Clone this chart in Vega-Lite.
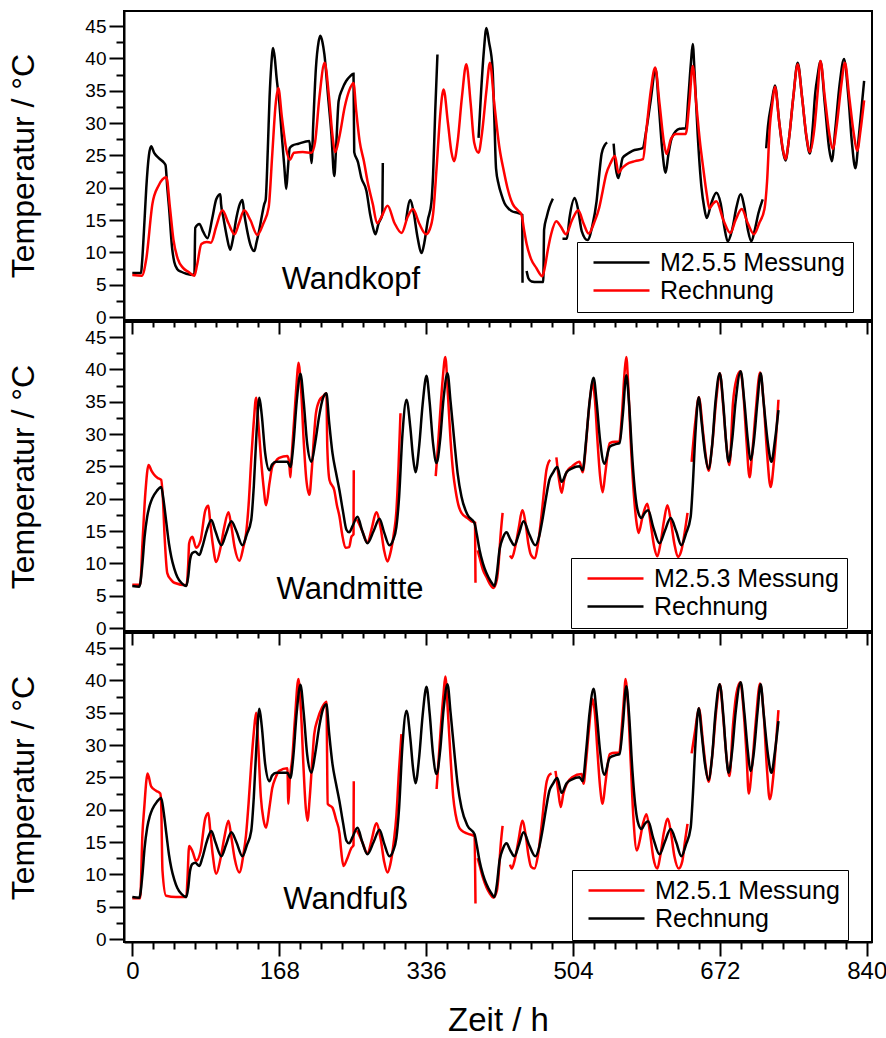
{
"$schema": "https://vega.github.io/schema/vega-lite/v6.json",
"padding": {"left": 6, "top": 10, "right": 2, "bottom": 2},
"bounds": "flush",
"spacing": 2,
"config": {
  "view": {"stroke": "black", "strokeWidth": 2},
  "font": "Liberation Sans",
  "axis": {"domainColor": "black", "domainWidth": 2, "tickColor": "black", "tickWidth": 2, "labelColor": "black", "titleColor": "black", "grid": false, "labelFont": "Liberation Sans", "titleFont": "Liberation Sans", "titleFontWeight": "normal", "labelOverlap": false, "labelFlush": false, "labelBound": false},
  "legend": {"labelFont": "Liberation Sans", "labelFontSize": 25, "labelColor": "black", "labelLimit": 400, "strokeColor": "black", "fillColor": "white", "padding": 8, "rowPadding": 2, "symbolType": "M-4,0H4", "symbolSize": 196, "symbolStrokeWidth": 2.5, "symbolOffset": 24, "labelOffset": 26, "orient": "none"}
},
"resolve": {"scale": {"color": "independent", "x": "independent", "y": "independent"}, "legend": {"color": "independent"}},
"datasets": {
"topCalc": [{"h":0,"T":6.5},{"h":11,"T":6.4},{"h":16,"T":9},{"h":23,"T":17.5},{"h":30,"T":20.3},{"h":39,"T":21.6},{"h":43,"T":17},{"h":47,"T":12},{"h":52,"T":9},{"h":58,"T":7.6},{"h":64,"T":7},{"h":71,"T":6.4},{"h":74,"T":8},{"h":79,"T":11.3},{"h":85,"T":11.6},{"h":90,"T":11.5},{"h":96,"T":14},{"h":103,"T":16.5},{"h":110,"T":14.5},{"h":117,"T":12.8},{"h":122,"T":14.5},{"h":128,"T":16.5},{"h":135,"T":15},{"h":143,"T":12.7},{"h":150,"T":14.5},{"h":156,"T":17},{"h":160,"T":25},{"h":164,"T":33},{"h":167,"T":35.4},{"h":171,"T":31},{"h":176,"T":26},{"h":180,"T":24.3},{"h":185,"T":25.4},{"h":195,"T":25.5},{"h":205,"T":25.4},{"h":209,"T":27},{"h":214,"T":34},{"h":220,"T":39.3},{"h":225,"T":34},{"h":229,"T":28},{"h":232,"T":25.5},{"h":237,"T":28},{"h":243,"T":32.5},{"h":248,"T":35},{"h":253,"T":36.2},{"h":256,"T":32},{"h":260,"T":27.2},{"h":265,"T":24},{"h":269,"T":21},{"h":275,"T":17.5},{"h":280,"T":14.5},{"h":285,"T":15.5},{"h":292,"T":17.2},{"h":300,"T":14.5},{"h":308,"T":13},{"h":315,"T":15.5},{"h":321,"T":16.7},{"h":328,"T":14.5},{"h":336,"T":12.8},{"h":340,"T":13.5},{"h":344,"T":15.9},{"h":348,"T":23},{"h":352,"T":31},{"h":356,"T":35.2},{"h":361,"T":30},{"h":365,"T":25.5},{"h":368,"T":24.1},{"h":372,"T":27},{"h":377,"T":34},{"h":382,"T":39.1},{"h":387,"T":33},{"h":391,"T":27},{"h":396,"T":25.4},{"h":400,"T":28.5},{"h":405,"T":35},{"h":409,"T":39.3},{"h":414,"T":33},{"h":420,"T":26.1},{"h":425,"T":22.5},{"h":429,"T":20},{"h":435,"T":17.5},{"h":441,"T":16.5},{"h":445,"T":15.9},{"h":448,"T":13.5},{"h":451,"T":11.3},{"h":456,"T":9},{"h":462,"T":7.6},{"h":469,"T":6.3},{"h":472,"T":7.8},{"h":475,"T":10.2},{"h":479,"T":12.8},{"h":485,"T":14.8},{"h":490,"T":14},{"h":496,"T":12.8},{"h":503,"T":15},{"h":510,"T":16.5},{"h":516,"T":14.5},{"h":522,"T":12.9},{"h":528,"T":14.5},{"h":534,"T":16.9},{"h":538,"T":19.5},{"h":542,"T":22.1},{"h":547,"T":23.8},{"h":552,"T":24.9},{"h":556,"T":22.3},{"h":560,"T":23},{"h":565,"T":23.6},{"h":575,"T":24.1},{"h":584,"T":24.4},{"h":588,"T":29},{"h":593,"T":35},{"h":598,"T":38.6},{"h":603,"T":33},{"h":608,"T":27},{"h":611,"T":25.2},{"h":616,"T":27.5},{"h":622,"T":28.3},{"h":633,"T":28.3},{"h":637,"T":33},{"h":641,"T":38.8},{"h":645,"T":33},{"h":649,"T":27.4},{"h":653,"T":23},{"h":657,"T":19},{"h":660,"T":16.8},{"h":664,"T":17.5},{"h":668,"T":17.9},{"h":676,"T":15},{"h":684,"T":13},{"h":690,"T":15},{"h":697,"T":16.7},{"h":704,"T":14.5},{"h":711,"T":12.8},{"h":717,"T":14.5},{"h":723,"T":16.7},{"h":726,"T":21},{"h":729,"T":29.2},{"h":732,"T":33},{"h":735,"T":35.6},{"h":740,"T":30},{"h":744,"T":26},{"h":747,"T":24.4},{"h":751,"T":27.5},{"h":756,"T":34},{"h":761,"T":39.1},{"h":766,"T":34},{"h":771,"T":28},{"h":775,"T":25.5},{"h":780,"T":29},{"h":784,"T":35},{"h":787,"T":39.6},{"h":792,"T":34},{"h":797,"T":28.5},{"h":801,"T":26},{"h":806,"T":30},{"h":811,"T":36},{"h":815,"T":39.3},{"h":820,"T":34},{"h":825,"T":28.5},{"h":829,"T":25.7},{"h":833,"T":29},{"h":837,"T":33.5}],
"topMess": [{"seg":1,"h":0,"T":6.8},{"seg":1,"h":10,"T":6.8},{"seg":1,"h":11,"T":8.2},{"seg":1,"h":14,"T":15},{"seg":1,"h":16,"T":20},{"seg":1,"h":19,"T":25},{"seg":1,"h":21.5,"T":26.4},{"seg":1,"h":25,"T":25.4},{"seg":1,"h":30,"T":24.6},{"seg":1,"h":36.6,"T":23.8},{"seg":1,"h":38,"T":23.5},{"seg":1,"h":40,"T":20},{"seg":1,"h":42,"T":16.9},{"seg":1,"h":45.5,"T":10.7},{"seg":1,"h":48,"T":8.5},{"seg":1,"h":51.5,"T":7.4},{"seg":1,"h":56,"T":7},{"seg":1,"h":61.8,"T":6.7},{"seg":1,"h":71,"T":6.5},{"seg":1,"h":72,"T":13.8},{"seg":1,"h":76.7,"T":14.4},{"seg":1,"h":81,"T":13.2},{"seg":1,"h":86,"T":12.2},{"seg":1,"h":91.5,"T":15.3},{"seg":1,"h":96,"T":18.2},{"seg":1,"h":100.7,"T":19},{"seg":1,"h":101.5,"T":17.5},{"seg":1,"h":104,"T":15.5},{"seg":1,"h":108,"T":12.5},{"seg":1,"h":112,"T":10.4},{"seg":1,"h":115,"T":12},{"seg":1,"h":119,"T":15.3},{"seg":1,"h":123,"T":17.5},{"seg":1,"h":126,"T":18.1},{"seg":1,"h":128,"T":16},{"seg":1,"h":131,"T":13.6},{"seg":1,"h":135,"T":11.2},{"seg":1,"h":139.6,"T":10.2},{"seg":1,"h":142,"T":11.5},{"seg":1,"h":145,"T":13.3},{"seg":1,"h":148,"T":15.5},{"seg":1,"h":151,"T":17.5},{"seg":1,"h":152.5,"T":18.1},{"seg":1,"h":155,"T":26},{"seg":1,"h":157,"T":34},{"seg":1,"h":159,"T":39},{"seg":1,"h":161,"T":41.6},{"seg":1,"h":163,"T":40},{"seg":1,"h":165,"T":37},{"seg":1,"h":168,"T":33.4},{"seg":1,"h":171,"T":28},{"seg":1,"h":174,"T":23},{"seg":1,"h":176,"T":19.8},{"seg":1,"h":178,"T":23},{"seg":1,"h":180,"T":26.1},{"seg":1,"h":183,"T":26.5},{"seg":1,"h":190,"T":26.8},{"seg":1,"h":202.6,"T":27.2},{"seg":1,"h":205,"T":23.8},{"seg":1,"h":207,"T":30},{"seg":1,"h":210,"T":38.5},{"seg":1,"h":213,"T":42.5},{"seg":1,"h":215,"T":43.5},{"seg":1,"h":217.5,"T":42.5},{"seg":1,"h":219.7,"T":40.6},{"seg":1,"h":224,"T":34},{"seg":1,"h":227.7,"T":28.3},{"seg":1,"h":231,"T":21.8},{"seg":1,"h":233,"T":26},{"seg":1,"h":236,"T":33.4},{"seg":1,"h":240,"T":35.2},{"seg":1,"h":244.6,"T":36.5},{"seg":1,"h":249,"T":37.2},{"seg":1,"h":253,"T":37.6},{"seg":1,"h":253.8,"T":25.5},{"seg":1,"h":258,"T":24},{"seg":1,"h":262,"T":21.5},{"seg":1,"h":267.8,"T":19.5},{"seg":1,"h":272,"T":15.9},{"seg":1,"h":275,"T":14},{"seg":1,"h":278,"T":12.8},{"seg":1,"h":281.5,"T":14.4},{"seg":1,"h":286,"T":15.9},{"seg":1,"h":286.5,"T":23.8},
{"seg":2,"h":313,"T":14.9},{"seg":2,"h":318,"T":18.1},{"seg":2,"h":322,"T":16},{"seg":2,"h":326,"T":12.5},{"seg":2,"h":331,"T":9.9},{"seg":2,"h":334,"T":11.5},{"seg":2,"h":338,"T":15},{"seg":2,"h":342,"T":17.6},{"seg":2,"h":344,"T":22},{"seg":2,"h":346.5,"T":32},{"seg":2,"h":349,"T":40.6},
{"seg":3,"h":396,"T":27.7},{"seg":3,"h":399,"T":35},{"seg":3,"h":402,"T":41},{"seg":3,"h":405,"T":44.7},{"seg":3,"h":408,"T":42.5},{"seg":3,"h":412,"T":38.5},{"seg":3,"h":414,"T":31},{"seg":3,"h":416,"T":23},{"seg":3,"h":419,"T":20.5},{"seg":3,"h":422,"T":19},{"seg":3,"h":425.7,"T":17.6},{"seg":3,"h":430,"T":16.8},{"seg":3,"h":433.7,"T":16.4},{"seg":3,"h":440.6,"T":16.1},{"seg":3,"h":446,"T":15.8},{"seg":3,"h":446.3,"T":5.3},
{"seg":4,"h":451,"T":7.1},{"seg":4,"h":453,"T":6},{"seg":4,"h":456.6,"T":5.5},{"seg":4,"h":463,"T":5.4},{"seg":4,"h":470,"T":5.4},{"seg":4,"h":471,"T":13.5},{"seg":4,"h":474,"T":15.5},{"seg":4,"h":477,"T":17},{"seg":4,"h":481,"T":18.3},
{"seg":5,"h":492,"T":12.1},{"seg":5,"h":497,"T":12.1},{"seg":5,"h":500,"T":15.3},{"seg":5,"h":506,"T":18.4},{"seg":5,"h":510,"T":16.5},{"seg":5,"h":514,"T":13.3},{"seg":5,"h":520.7,"T":11.9},{"seg":5,"h":526,"T":14},{"seg":5,"h":531,"T":17.9},{"seg":5,"h":534,"T":22},{"seg":5,"h":536.7,"T":25.2},{"seg":5,"h":540,"T":26.5},{"seg":5,"h":543,"T":27},
{"seg":6,"h":550.5,"T":26.8},{"seg":6,"h":553,"T":23},{"seg":6,"h":556,"T":21.5},{"seg":6,"h":560.8,"T":24.6},{"seg":6,"h":566,"T":25.2},{"seg":6,"h":572,"T":25.7},{"seg":6,"h":583.7,"T":26.1},{"seg":6,"h":588,"T":29},{"seg":6,"h":592.8,"T":33.4},{"seg":6,"h":598.5,"T":38.3},{"seg":6,"h":602,"T":33},{"seg":6,"h":606,"T":26},{"seg":6,"h":610,"T":22.3},{"seg":6,"h":613,"T":25},{"seg":6,"h":617,"T":27.7},{"seg":6,"h":626,"T":29.1},{"seg":6,"h":633,"T":29.2},{"seg":6,"h":636,"T":34},{"seg":6,"h":639,"T":39.5},{"seg":6,"h":641,"T":42.2},{"seg":6,"h":643,"T":38},{"seg":6,"h":646.6,"T":28.3},{"seg":6,"h":651,"T":20},{"seg":6,"h":654,"T":17},{"seg":6,"h":657,"T":15.3},{"seg":6,"h":662,"T":17.5},{"seg":6,"h":668,"T":19.2},{"seg":6,"h":673,"T":17.5},{"seg":6,"h":677,"T":14},{"seg":6,"h":681,"T":11.7},{"seg":6,"h":686,"T":13.5},{"seg":6,"h":691,"T":17},{"seg":6,"h":695.6,"T":19},{"seg":6,"h":700,"T":17},{"seg":6,"h":704,"T":13.5},{"seg":6,"h":708,"T":11.7},{"seg":6,"h":712,"T":13.5},{"seg":6,"h":716,"T":16},{"seg":6,"h":721,"T":18.2},
{"seg":7,"h":725,"T":26.1},{"seg":7,"h":727,"T":29.5},{"seg":7,"h":731,"T":33},{"seg":7,"h":735,"T":35.8},{"seg":7,"h":740,"T":30},{"seg":7,"h":744,"T":25.8},{"seg":7,"h":747,"T":24.2},{"seg":7,"h":751,"T":27.5},{"seg":7,"h":756,"T":34},{"seg":7,"h":761,"T":39.3},{"seg":7,"h":766,"T":34},{"seg":7,"h":771,"T":27.8},{"seg":7,"h":775,"T":25.3},{"seg":7,"h":778,"T":29},{"seg":7,"h":781,"T":34.5},{"seg":7,"h":784,"T":37.5},{"seg":7,"h":787,"T":39.6},{"seg":7,"h":792,"T":33},{"seg":7,"h":797,"T":26},{"seg":7,"h":800,"T":24.1},{"seg":7,"h":804,"T":29},{"seg":7,"h":809,"T":36},{"seg":7,"h":814,"T":39.9},{"seg":7,"h":819,"T":34},{"seg":7,"h":823,"T":27},{"seg":7,"h":827,"T":23},{"seg":7,"h":831,"T":28},{"seg":7,"h":837,"T":36.5}],
"calc": [{"h":0,"T":6.5},{"h":8,"T":6.4},{"h":11.6,"T":10},{"h":14,"T":14},{"h":17,"T":17.2},{"h":20,"T":19},{"h":23,"T":20.1},{"h":28,"T":21.2},{"h":33,"T":21.8},{"h":36,"T":19.5},{"h":39,"T":16.2},{"h":42,"T":13},{"h":44.6,"T":11},{"h":48,"T":9.2},{"h":51.5,"T":7.9},{"h":56,"T":7},{"h":61.8,"T":6.5},{"h":64,"T":8},{"h":66,"T":10.5},{"h":68.7,"T":11.6},{"h":72,"T":11.8},{"h":76.7,"T":11.3},{"h":80,"T":12.5},{"h":85,"T":15},{"h":90.4,"T":16.7},{"h":95,"T":15},{"h":101.9,"T":12.8},{"h":107,"T":14.5},{"h":113.3,"T":16.5},{"h":119,"T":15},{"h":125.9,"T":12.8},{"h":131,"T":14.5},{"h":136,"T":16.7},{"h":139,"T":22},{"h":142,"T":30},{"h":145.3,"T":35.6},{"h":148,"T":33},{"h":152,"T":27},{"h":156.8,"T":24.4},{"h":160,"T":25.3},{"h":164.8,"T":25.7},{"h":177.4,"T":25.7},{"h":180.8,"T":24.9},{"h":184,"T":28},{"h":188,"T":35},{"h":192.3,"T":39.3},{"h":196,"T":35},{"h":200,"T":28.5},{"h":204.9,"T":25.7},{"h":209,"T":28.5},{"h":214,"T":33},{"h":218,"T":35.5},{"h":222,"T":36.3},{"h":225,"T":32},{"h":229,"T":27},{"h":233,"T":24},{"h":236.9,"T":21.3},{"h":241,"T":18},{"h":244.9,"T":15.2},{"h":248,"T":14.8},{"h":252,"T":15.8},{"h":257.5,"T":17.2},{"h":263,"T":15},{"h":268.9,"T":13.1},{"h":276,"T":15},{"h":282.7,"T":16.9},{"h":288,"T":14.8},{"h":294,"T":12.8},{"h":298,"T":13.5},{"h":302,"T":15.6},{"h":305,"T":20},{"h":309,"T":30},{"h":313.6,"T":35.3},{"h":318,"T":31},{"h":321,"T":26.5},{"h":323.9,"T":24.1},{"h":328,"T":28},{"h":332,"T":34.5},{"h":336.5,"T":39},{"h":340,"T":35},{"h":344,"T":28.5},{"h":348,"T":25.5},{"h":352,"T":29},{"h":356,"T":35.5},{"h":360.5,"T":39.4},{"h":364,"T":35},{"h":368.5,"T":28.6},{"h":372,"T":24},{"h":376.5,"T":20.3},{"h":383.4,"T":17.5},{"h":391.4,"T":16.2},{"h":394,"T":14.5},{"h":397.1,"T":12.1},{"h":401,"T":10},{"h":405,"T":8.5},{"h":410,"T":7.2},{"h":414.3,"T":6.5},{"h":417,"T":8.5},{"h":420,"T":12.1},{"h":424,"T":14},{"h":428,"T":14.8},{"h":432,"T":13.8},{"h":437,"T":12.8},{"h":442,"T":14.5},{"h":447.5,"T":16.5},{"h":454,"T":14.5},{"h":461,"T":12.8},{"h":465,"T":14},{"h":469,"T":16.7},{"h":473,"T":20},{"h":477,"T":22.9},{"h":481,"T":24},{"h":486,"T":24.9},{"h":491,"T":22.6},{"h":496.7,"T":24.1},{"h":503,"T":24.7},{"h":511.6,"T":25},{"h":515,"T":24.4},{"h":519,"T":29},{"h":523,"T":35},{"h":527.6,"T":38.7},{"h":531,"T":35},{"h":535,"T":29},{"h":540,"T":25.4},{"h":546,"T":28},{"h":552,"T":28.4},{"h":557.3,"T":28.6},{"h":561,"T":33},{"h":565,"T":39.1},{"h":568,"T":35},{"h":572,"T":26},{"h":575,"T":21},{"h":578,"T":18.2},{"h":582.5,"T":17},{"h":586,"T":17.8},{"h":590,"T":18.2},{"h":596,"T":15.5},{"h":603,"T":13.1},{"h":609,"T":15},{"h":615.7,"T":17},{"h":622,"T":15},{"h":628,"T":12.8},{"h":633,"T":14.5},{"h":638.6,"T":17.2},{"h":641,"T":22},{"h":644,"T":30},{"h":647.8,"T":35.7},{"h":651,"T":32},{"h":655,"T":27},{"h":659,"T":24.6},{"h":663,"T":28},{"h":667,"T":35},{"h":671.8,"T":39.4},{"h":676,"T":34.5},{"h":679,"T":29},{"h":682,"T":25.7},{"h":686,"T":29},{"h":690,"T":35},{"h":695.8,"T":39.7},{"h":700,"T":35},{"h":704,"T":29},{"h":707,"T":26},{"h":711,"T":29},{"h":715,"T":35},{"h":718.7,"T":39.4},{"h":722,"T":35},{"h":727,"T":28.5},{"h":731,"T":25.7},{"h":735,"T":29},{"h":739,"T":33.7}],
"midMess": [{"seg":1,"h":0,"T":6.7},{"seg":1,"h":9,"T":6.7},{"seg":1,"h":11.6,"T":13.1},{"seg":1,"h":15,"T":21},{"seg":1,"h":18.6,"T":25.2},{"seg":1,"h":22,"T":24.3},{"seg":1,"h":25,"T":23.7},{"seg":1,"h":29,"T":23.2},{"seg":1,"h":33,"T":22.9},{"seg":1,"h":35,"T":20},{"seg":1,"h":37,"T":14},{"seg":1,"h":40,"T":8.5},{"seg":1,"h":44,"T":7.5},{"seg":1,"h":48,"T":7},{"seg":1,"h":62,"T":6.6},{"seg":1,"h":64,"T":10},{"seg":1,"h":65,"T":13.1},{"seg":1,"h":68.7,"T":14.1},{"seg":1,"h":73,"T":12.4},{"seg":1,"h":78,"T":13.5},{"seg":1,"h":83.5,"T":18.2},{"seg":1,"h":87,"T":18.9},{"seg":1,"h":89,"T":16.5},{"seg":1,"h":92,"T":13},{"seg":1,"h":96,"T":10.2},{"seg":1,"h":101,"T":12.5},{"seg":1,"h":105,"T":15.5},{"seg":1,"h":110,"T":17.9},{"seg":1,"h":113,"T":16},{"seg":1,"h":117,"T":12.5},{"seg":1,"h":122.5,"T":10.4},{"seg":1,"h":127,"T":12.5},{"seg":1,"h":130,"T":14.5},{"seg":1,"h":133,"T":19},{"seg":1,"h":136,"T":26},{"seg":1,"h":139,"T":32},{"seg":1,"h":141.6,"T":35.6},{"seg":1,"h":144,"T":32},{"seg":1,"h":147,"T":26.5},{"seg":1,"h":150,"T":22},{"seg":1,"h":153,"T":19},{"seg":1,"h":157,"T":22.5},{"seg":1,"h":160,"T":24.9},{"seg":1,"h":164,"T":25.8},{"seg":1,"h":168,"T":26.3},{"seg":1,"h":177.4,"T":26.6},{"seg":1,"h":179.5,"T":25.5},{"seg":1,"h":180.8,"T":23.3},{"seg":1,"h":182,"T":26},{"seg":1,"h":185,"T":32},{"seg":1,"h":188,"T":38},{"seg":1,"h":190,"T":41},{"seg":1,"h":193,"T":37},{"seg":1,"h":196,"T":29},{"seg":1,"h":199,"T":23},{"seg":1,"h":202.6,"T":20.6},{"seg":1,"h":205,"T":24},{"seg":1,"h":208,"T":30},{"seg":1,"h":210,"T":33.2},{"seg":1,"h":214,"T":35.2},{"seg":1,"h":218,"T":35.8},{"seg":1,"h":222,"T":36.3},{"seg":1,"h":223,"T":28},{"seg":1,"h":225.5,"T":22.9},{"seg":1,"h":231,"T":21.3},{"seg":1,"h":234,"T":19},{"seg":1,"h":237,"T":17.2},{"seg":1,"h":240,"T":14.5},{"seg":1,"h":243.8,"T":12.4},{"seg":1,"h":248,"T":12.5},{"seg":1,"h":250.6,"T":14.1},{"seg":1,"h":253,"T":14.5},{"seg":1,"h":253.3,"T":24.4},
{"seg":2,"h":257,"T":16.8},{"seg":2,"h":263,"T":15},{"seg":2,"h":269,"T":13.2},{"seg":2,"h":274,"T":15.5},{"seg":2,"h":279,"T":17.9},{"seg":2,"h":284,"T":15.5},{"seg":2,"h":288,"T":12},{"seg":2,"h":291.8,"T":10.3},{"seg":2,"h":295,"T":11.5},{"seg":2,"h":299,"T":14.5},{"seg":2,"h":302,"T":18},{"seg":2,"h":304.5,"T":25},{"seg":2,"h":306.7,"T":33.2},
{"seg":3,"h":347,"T":23.5},{"seg":3,"h":349,"T":27},{"seg":3,"h":352,"T":33},{"seg":3,"h":355,"T":38.5},{"seg":3,"h":358,"T":41.9},{"seg":3,"h":361,"T":36},{"seg":3,"h":364,"T":29},{"seg":3,"h":367,"T":24},{"seg":3,"h":369.7,"T":21.3},{"seg":3,"h":373,"T":19},{"seg":3,"h":376.5,"T":17.8},{"seg":3,"h":383.4,"T":17},{"seg":3,"h":388,"T":16.5},{"seg":3,"h":392,"T":16.3},{"seg":3,"h":392.5,"T":7},
{"seg":4,"h":395,"T":12},{"seg":4,"h":397,"T":11},{"seg":4,"h":401,"T":9},{"seg":4,"h":405,"T":7.9},{"seg":4,"h":409,"T":6.8},{"seg":4,"h":413,"T":6.2},{"seg":4,"h":417,"T":7.5},{"seg":4,"h":419,"T":10},{"seg":4,"h":421,"T":14},{"seg":4,"h":423.5,"T":17.8},
{"seg":5,"h":432,"T":11.2},{"seg":5,"h":434,"T":10.8},{"seg":5,"h":438,"T":12.6},{"seg":5,"h":442,"T":15.5},{"seg":5,"h":446,"T":18.2},{"seg":5,"h":450,"T":16},{"seg":5,"h":453,"T":13},{"seg":5,"h":456,"T":11.3},{"seg":5,"h":460,"T":10.8},{"seg":5,"h":464,"T":13},{"seg":5,"h":469,"T":18.7},{"seg":5,"h":471.5,"T":22},{"seg":5,"h":473.6,"T":24.4},{"seg":5,"h":476,"T":25.6},{"seg":5,"h":478,"T":26},
{"seg":6,"h":485,"T":26.4},{"seg":6,"h":488,"T":23},{"seg":6,"h":491,"T":20.9},{"seg":6,"h":494,"T":23},{"seg":6,"h":497,"T":24.2},{"seg":6,"h":503,"T":25},{"seg":6,"h":511.6,"T":25.7},{"seg":6,"h":515,"T":24.1},{"seg":6,"h":518,"T":27},{"seg":6,"h":521,"T":32},{"seg":6,"h":524,"T":36},{"seg":6,"h":526.5,"T":38},{"seg":6,"h":529,"T":35.5},{"seg":6,"h":532,"T":29},{"seg":6,"h":535,"T":23.5},{"seg":6,"h":538,"T":21},{"seg":6,"h":541,"T":24},{"seg":6,"h":546,"T":28.6},{"seg":6,"h":552,"T":28.8},{"seg":6,"h":557,"T":28.8},{"seg":6,"h":560,"T":33},{"seg":6,"h":563,"T":39.5},{"seg":6,"h":565,"T":41.9},{"seg":6,"h":567,"T":38},{"seg":6,"h":570,"T":29},{"seg":6,"h":574,"T":20},{"seg":6,"h":577,"T":16},{"seg":6,"h":579,"T":14.7},{"seg":6,"h":584,"T":17.5},{"seg":6,"h":589,"T":19.2},{"seg":6,"h":593,"T":16},{"seg":6,"h":597,"T":12.5},{"seg":6,"h":600.5,"T":11.1},{"seg":6,"h":604,"T":13},{"seg":6,"h":608,"T":16.5},{"seg":6,"h":612,"T":19},{"seg":6,"h":616,"T":16.5},{"seg":6,"h":620,"T":13},{"seg":6,"h":624,"T":11},{"seg":6,"h":628,"T":12},{"seg":6,"h":632,"T":15},{"seg":6,"h":635,"T":17.8},
{"seg":7,"h":639.7,"T":25.7},{"seg":7,"h":644,"T":32},{"seg":7,"h":648,"T":35.7},{"seg":7,"h":653,"T":30},{"seg":7,"h":656,"T":26.5},{"seg":7,"h":659,"T":24.3},{"seg":7,"h":663,"T":28},{"seg":7,"h":668,"T":35.5},{"seg":7,"h":672,"T":39.4},{"seg":7,"h":676,"T":34},{"seg":7,"h":680,"T":27.5},{"seg":7,"h":683,"T":25.2},{"seg":7,"h":687,"T":34.8},{"seg":7,"h":691,"T":38.5},{"seg":7,"h":695.5,"T":39.7},{"seg":7,"h":699,"T":36},{"seg":7,"h":702.5,"T":28.8},{"seg":7,"h":706,"T":23.3},{"seg":7,"h":709,"T":27},{"seg":7,"h":713,"T":33.5},{"seg":7,"h":718,"T":39.5},{"seg":7,"h":722,"T":35},{"seg":7,"h":726,"T":27},{"seg":7,"h":730,"T":21.8},{"seg":7,"h":734,"T":26},{"seg":7,"h":737,"T":31},{"seg":7,"h":739,"T":35.3}],
"botMess": [{"seg":1,"h":0,"T":6.3},{"seg":1,"h":9,"T":6.3},{"seg":1,"h":11.6,"T":16.3},{"seg":1,"h":13.5,"T":20},{"seg":1,"h":17.5,"T":25.6},{"seg":1,"h":21.5,"T":23.6},{"seg":1,"h":27.5,"T":22.9},{"seg":1,"h":32,"T":22.5},{"seg":1,"h":33,"T":21},{"seg":1,"h":34.5,"T":10.6},{"seg":1,"h":38.6,"T":6.7},{"seg":1,"h":50,"T":6.5},{"seg":1,"h":61.8,"T":6.5},{"seg":1,"h":63,"T":9},{"seg":1,"h":65,"T":14.4},{"seg":1,"h":69,"T":13.5},{"seg":1,"h":73,"T":12.1},{"seg":1,"h":78,"T":13.5},{"seg":1,"h":83.5,"T":18.7},{"seg":1,"h":87,"T":19.5},{"seg":1,"h":89,"T":17},{"seg":1,"h":92,"T":13},{"seg":1,"h":96,"T":10.1},{"seg":1,"h":101,"T":12.5},{"seg":1,"h":105,"T":15.5},{"seg":1,"h":110,"T":18.3},{"seg":1,"h":113,"T":16},{"seg":1,"h":117,"T":12.5},{"seg":1,"h":122.5,"T":10.3},{"seg":1,"h":127,"T":13},{"seg":1,"h":130,"T":16},{"seg":1,"h":133,"T":21},{"seg":1,"h":136,"T":27},{"seg":1,"h":139,"T":32},{"seg":1,"h":141.6,"T":35},{"seg":1,"h":144,"T":30},{"seg":1,"h":147,"T":22},{"seg":1,"h":150,"T":18.5},{"seg":1,"h":153,"T":17.2},{"seg":1,"h":157,"T":20.5},{"seg":1,"h":160,"T":23.3},{"seg":1,"h":164,"T":25},{"seg":1,"h":168,"T":26},{"seg":1,"h":177.4,"T":26.4},{"seg":1,"h":178.5,"T":20.9},{"seg":1,"h":180,"T":24.5},{"seg":1,"h":183,"T":28},{"seg":1,"h":186,"T":34},{"seg":1,"h":190,"T":40.2},{"seg":1,"h":193,"T":35},{"seg":1,"h":196,"T":26},{"seg":1,"h":198,"T":21},{"seg":1,"h":200.3,"T":18.3},{"seg":1,"h":203,"T":22},{"seg":1,"h":206,"T":28},{"seg":1,"h":208,"T":31.6},{"seg":1,"h":212,"T":34},{"seg":1,"h":217,"T":35.8},{"seg":1,"h":222,"T":36.7},{"seg":1,"h":223.5,"T":20.9},{"seg":1,"h":229,"T":20.3},{"seg":1,"h":233,"T":18.5},{"seg":1,"h":237,"T":16.3},{"seg":1,"h":239,"T":13.5},{"seg":1,"h":241.5,"T":11.3},{"seg":1,"h":246,"T":12.5},{"seg":1,"h":250.6,"T":14.1},{"seg":1,"h":253,"T":14.5},{"seg":1,"h":253.3,"T":24.4},
{"seg":2,"h":257,"T":16.8},{"seg":2,"h":263,"T":15},{"seg":2,"h":269,"T":13.2},{"seg":2,"h":274,"T":15.5},{"seg":2,"h":279,"T":17.9},{"seg":2,"h":284,"T":15.5},{"seg":2,"h":288,"T":12},{"seg":2,"h":291.8,"T":10.3},{"seg":2,"h":295,"T":11.5},{"seg":2,"h":299,"T":15},{"seg":2,"h":302,"T":19},{"seg":2,"h":305,"T":26},{"seg":2,"h":307.8,"T":31.7},
{"seg":3,"h":348,"T":23.2},{"seg":3,"h":350,"T":27},{"seg":3,"h":353,"T":33},{"seg":3,"h":356,"T":38},{"seg":3,"h":358,"T":40.6},{"seg":3,"h":361,"T":35},{"seg":3,"h":364,"T":28},{"seg":3,"h":367,"T":22},{"seg":3,"h":369.7,"T":19.3},{"seg":3,"h":373,"T":17.5},{"seg":3,"h":376.5,"T":16.8},{"seg":3,"h":383.4,"T":16.3},{"seg":3,"h":391.4,"T":15.9},{"seg":3,"h":392.5,"T":5.5},
{"seg":4,"h":395,"T":12.5},{"seg":4,"h":397,"T":11.5},{"seg":4,"h":401,"T":9.5},{"seg":4,"h":405,"T":8},{"seg":4,"h":409,"T":7},{"seg":4,"h":413,"T":6.4},{"seg":4,"h":417,"T":7.5},{"seg":4,"h":419,"T":10},{"seg":4,"h":421,"T":14},{"seg":4,"h":423.5,"T":17.5},
{"seg":5,"h":432,"T":11.5},{"seg":5,"h":434,"T":10.9},{"seg":5,"h":438,"T":12.6},{"seg":5,"h":442,"T":15.5},{"seg":5,"h":446,"T":18.3},{"seg":5,"h":450,"T":16},{"seg":5,"h":453,"T":13},{"seg":5,"h":456,"T":11.2},{"seg":5,"h":460,"T":10.9},{"seg":5,"h":464,"T":13},{"seg":5,"h":469,"T":18.7},{"seg":5,"h":471.5,"T":22},{"seg":5,"h":474,"T":24.4},{"seg":5,"h":476.5,"T":25.3},{"seg":5,"h":479.5,"T":25.6},
{"seg":6,"h":484,"T":26},{"seg":6,"h":487,"T":23},{"seg":6,"h":490,"T":20.4},{"seg":6,"h":493,"T":22.5},{"seg":6,"h":497,"T":24},{"seg":6,"h":503,"T":25},{"seg":6,"h":514,"T":25.5},{"seg":6,"h":516,"T":24},{"seg":6,"h":519,"T":27.5},{"seg":6,"h":522,"T":32},{"seg":6,"h":526.5,"T":37.1},{"seg":6,"h":529,"T":35},{"seg":6,"h":532,"T":29},{"seg":6,"h":535,"T":23.5},{"seg":6,"h":538,"T":20.9},{"seg":6,"h":541,"T":24},{"seg":6,"h":546,"T":28.6},{"seg":6,"h":552,"T":28.8},{"seg":6,"h":557,"T":28.8},{"seg":6,"h":560,"T":33},{"seg":6,"h":563,"T":38.5},{"seg":6,"h":564,"T":40.2},{"seg":6,"h":567,"T":36},{"seg":6,"h":570,"T":27.5},{"seg":6,"h":573,"T":19},{"seg":6,"h":577,"T":13.7},{"seg":6,"h":580,"T":15},{"seg":6,"h":584,"T":17.8},{"seg":6,"h":588,"T":19.3},{"seg":6,"h":592,"T":16.5},{"seg":6,"h":596,"T":12.5},{"seg":6,"h":600.5,"T":10.9},{"seg":6,"h":604,"T":13},{"seg":6,"h":608,"T":16.5},{"seg":6,"h":612.5,"T":18.6},{"seg":6,"h":616,"T":16.5},{"seg":6,"h":620,"T":12.8},{"seg":6,"h":625,"T":10.9},{"seg":6,"h":629,"T":12},{"seg":6,"h":632,"T":15},{"seg":6,"h":635,"T":17.8},
{"seg":7,"h":639.7,"T":28.7},{"seg":7,"h":644,"T":32.5},{"seg":7,"h":648,"T":35.7},{"seg":7,"h":653,"T":30},{"seg":7,"h":656,"T":26.5},{"seg":7,"h":659,"T":24.3},{"seg":7,"h":663,"T":28},{"seg":7,"h":668,"T":35.5},{"seg":7,"h":672,"T":39.4},{"seg":7,"h":676,"T":34},{"seg":7,"h":680,"T":27.5},{"seg":7,"h":683,"T":25.2},{"seg":7,"h":687,"T":33},{"seg":7,"h":691,"T":38},{"seg":7,"h":695.5,"T":39.7},{"seg":7,"h":699,"T":35.5},{"seg":7,"h":702.5,"T":28.5},{"seg":7,"h":705,"T":22.5},{"seg":7,"h":709,"T":27},{"seg":7,"h":713,"T":33.5},{"seg":7,"h":718,"T":39.5},{"seg":7,"h":722,"T":35},{"seg":7,"h":726,"T":26},{"seg":7,"h":729,"T":21.6},{"seg":7,"h":733,"T":25},{"seg":7,"h":736,"T":30},{"seg":7,"h":739,"T":35.4}]
},
"vconcat": [
{
 "width": 748, "height": 309,
 "layer": [
  {"data": {"name": "topMess"}, "mark": {"type": "line", "strokeWidth": 2.5, "interpolate": "monotone", "clip": true},
   "encoding": {
     "x": {"field": "h", "type": "quantitative", "scale": {"domain": [-9.5, 846], "nice": false, "zero": false}, "axis": {"values": [0,24,48,72,96,120,144,168,192,216,240,264,288,312,336,360,384,408,432,456,480,504,528,552,576,600,624,648,672,696,720,744,768,792,816,840], "labels": false, "title": null, "tickSize": {"condition": {"test": "datum.value % 168 === 0", "value": 14}, "value": 7}}},
     "y": {"field": "T", "type": "quantitative", "scale": {"domain": [-0.46, 47.32], "nice": false, "zero": false}, "axis": {"values": [0,2.5,5,7.5,10,12.5,15,17.5,20,22.5,25,27.5,30,32.5,35,37.5,40,42.5,45], "labelExpr": "datum.value % 5 === 0 ? datum.label : ''", "tickSize": {"condition": {"test": "datum.value % 5 === 0", "value": 15}, "value": 8}, "labelFontSize": 19, "labelPadding": 3, "title": "Temperatur / °C", "titleFontSize": 32, "titlePadding": 44}},
     "detail": {"field": "seg", "type": "nominal"},
     "color": {"datum": "M2.5.5 Messung", "type": "nominal", "scale": {"domain": ["M2.5.5 Messung", "Rechnung"], "range": ["black", "red"]}, "legend": {"title": null, "orient": "none", "legendX": 453, "legendY": 231}}}},
  {"data": {"name": "topCalc"}, "mark": {"type": "line", "strokeWidth": 2.5, "interpolate": "monotone", "clip": true},
   "encoding": {
     "x": {"field": "h", "type": "quantitative", "scale": {"domain": [-9.5, 846], "nice": false, "zero": false}, "axis": {"values": [0,24,48,72,96,120,144,168,192,216,240,264,288,312,336,360,384,408,432,456,480,504,528,552,576,600,624,648,672,696,720,744,768,792,816,840], "labels": false, "title": null, "tickSize": {"condition": {"test": "datum.value % 168 === 0", "value": 14}, "value": 7}}},
     "y": {"field": "T", "type": "quantitative", "scale": {"domain": [-0.46, 47.32], "nice": false, "zero": false}, "axis": {"values": [0,2.5,5,7.5,10,12.5,15,17.5,20,22.5,25,27.5,30,32.5,35,37.5,40,42.5,45], "labelExpr": "datum.value % 5 === 0 ? datum.label : ''", "tickSize": {"condition": {"test": "datum.value % 5 === 0", "value": 15}, "value": 8}, "labelFontSize": 19, "labelPadding": 3, "title": "Temperatur / °C", "titleFontSize": 32, "titlePadding": 44}},
     "color": {"datum": "Rechnung", "type": "nominal"}}},
  {"data": {"values": [{"label": "Wandkopf"}]}, "mark": {"type": "text", "fontSize": 31, "font": "Liberation Sans", "fill": "black", "align": "center", "baseline": "middle"},
   "encoding": {
     "x": {"datum": 250, "type": "quantitative", "scale": {"domain": [-9.5, 846], "nice": false, "zero": false}, "axis": {"values": [0,24,48,72,96,120,144,168,192,216,240,264,288,312,336,360,384,408,432,456,480,504,528,552,576,600,624,648,672,696,720,744,768,792,816,840], "labels": false, "title": null, "tickSize": {"condition": {"test": "datum.value % 168 === 0", "value": 14}, "value": 7}}},
     "y": {"datum": 5.7, "type": "quantitative", "scale": {"domain": [-0.46, 47.32], "nice": false, "zero": false}, "axis": {"values": [0,2.5,5,7.5,10,12.5,15,17.5,20,22.5,25,27.5,30,32.5,35,37.5,40,42.5,45], "labelExpr": "datum.value % 5 === 0 ? datum.label : ''", "tickSize": {"condition": {"test": "datum.value % 5 === 0", "value": 15}, "value": 8}, "labelFontSize": 19, "labelPadding": 3, "title": "Temperatur / °C", "titleFontSize": 32, "titlePadding": 44}},
     "text": {"field": "label", "type": "nominal"}}}
 ]
},
{
 "width": 748, "height": 309,
 "layer": [
  {"data": {"name": "midMess"}, "mark": {"type": "line", "strokeWidth": 2.5, "interpolate": "monotone", "clip": true},
   "encoding": {
     "x": {"field": "h", "type": "quantitative", "scale": {"domain": [-9.5, 846], "nice": false, "zero": false}, "axis": {"values": [0,24,48,72,96,120,144,168,192,216,240,264,288,312,336,360,384,408,432,456,480,504,528,552,576,600,624,648,672,696,720,744,768,792,816,840], "labels": false, "title": null, "tickSize": {"condition": {"test": "datum.value % 168 === 0", "value": 14}, "value": 7}}},
     "y": {"field": "T", "type": "quantitative", "scale": {"domain": [-0.46, 47.32], "nice": false, "zero": false}, "axis": {"values": [0,2.5,5,7.5,10,12.5,15,17.5,20,22.5,25,27.5,30,32.5,35,37.5,40,42.5,45], "labelExpr": "datum.value % 5 === 0 ? datum.label : ''", "tickSize": {"condition": {"test": "datum.value % 5 === 0", "value": 15}, "value": 8}, "labelFontSize": 19, "labelPadding": 3, "title": "Temperatur / °C", "titleFontSize": 32, "titlePadding": 44}},
     "detail": {"field": "seg", "type": "nominal"},
     "color": {"datum": "M2.5.3 Messung", "type": "nominal", "scale": {"domain": ["M2.5.3 Messung", "Rechnung"], "range": ["red", "black"]}, "legend": {"title": null, "orient": "none", "legendX": 447, "legendY": 236}}}},
  {"data": {"name": "calc"}, "mark": {"type": "line", "strokeWidth": 2.5, "interpolate": "monotone", "clip": true},
   "encoding": {
     "x": {"field": "h", "type": "quantitative", "scale": {"domain": [-9.5, 846], "nice": false, "zero": false}, "axis": {"values": [0,24,48,72,96,120,144,168,192,216,240,264,288,312,336,360,384,408,432,456,480,504,528,552,576,600,624,648,672,696,720,744,768,792,816,840], "labels": false, "title": null, "tickSize": {"condition": {"test": "datum.value % 168 === 0", "value": 14}, "value": 7}}},
     "y": {"field": "T", "type": "quantitative", "scale": {"domain": [-0.46, 47.32], "nice": false, "zero": false}, "axis": {"values": [0,2.5,5,7.5,10,12.5,15,17.5,20,22.5,25,27.5,30,32.5,35,37.5,40,42.5,45], "labelExpr": "datum.value % 5 === 0 ? datum.label : ''", "tickSize": {"condition": {"test": "datum.value % 5 === 0", "value": 15}, "value": 8}, "labelFontSize": 19, "labelPadding": 3, "title": "Temperatur / °C", "titleFontSize": 32, "titlePadding": 44}},
     "color": {"datum": "Rechnung", "type": "nominal"}}},
  {"data": {"values": [{"label": "Wandmitte"}]}, "mark": {"type": "text", "fontSize": 31, "font": "Liberation Sans", "fill": "black", "align": "center", "baseline": "middle"},
   "encoding": {
     "x": {"datum": 249, "type": "quantitative", "scale": {"domain": [-9.5, 846], "nice": false, "zero": false}, "axis": {"values": [0,24,48,72,96,120,144,168,192,216,240,264,288,312,336,360,384,408,432,456,480,504,528,552,576,600,624,648,672,696,720,744,768,792,816,840], "labels": false, "title": null, "tickSize": {"condition": {"test": "datum.value % 168 === 0", "value": 14}, "value": 7}}},
     "y": {"datum": 5.9, "type": "quantitative", "scale": {"domain": [-0.46, 47.32], "nice": false, "zero": false}, "axis": {"values": [0,2.5,5,7.5,10,12.5,15,17.5,20,22.5,25,27.5,30,32.5,35,37.5,40,42.5,45], "labelExpr": "datum.value % 5 === 0 ? datum.label : ''", "tickSize": {"condition": {"test": "datum.value % 5 === 0", "value": 15}, "value": 8}, "labelFontSize": 19, "labelPadding": 3, "title": "Temperatur / °C", "titleFontSize": 32, "titlePadding": 44}},
     "text": {"field": "label", "type": "nominal"}}}
 ]
},
{
 "width": 748, "height": 309,
 "layer": [
  {"data": {"name": "botMess"}, "mark": {"type": "line", "strokeWidth": 2.5, "interpolate": "monotone", "clip": true},
   "encoding": {
     "x": {"field": "h", "type": "quantitative", "scale": {"domain": [-9.5, 846], "nice": false, "zero": false}, "axis": {"values": [0,24,48,72,96,120,144,168,192,216,240,264,288,312,336,360,384,408,432,456,480,504,528,552,576,600,624,648,672,696,720,744,768,792,816,840], "labelExpr": "datum.value % 168 === 0 ? datum.label : ''", "labelFont": "Liberation Sans Narrow, Arial Narrow, Liberation Sans", "labelFontSize": 24, "labelPadding": 3, "title": "Zeit / h", "titleFontSize": 33, "titlePadding": 21, "tickSize": {"condition": {"test": "datum.value % 168 === 0", "value": 14}, "value": 7}}},
     "y": {"field": "T", "type": "quantitative", "scale": {"domain": [-0.46, 47.32], "nice": false, "zero": false}, "axis": {"values": [0,2.5,5,7.5,10,12.5,15,17.5,20,22.5,25,27.5,30,32.5,35,37.5,40,42.5,45], "labelExpr": "datum.value % 5 === 0 ? datum.label : ''", "tickSize": {"condition": {"test": "datum.value % 5 === 0", "value": 15}, "value": 8}, "labelFontSize": 19, "labelPadding": 3, "title": "Temperatur / °C", "titleFontSize": 32, "titlePadding": 44}},
     "detail": {"field": "seg", "type": "nominal"},
     "color": {"datum": "M2.5.1 Messung", "type": "nominal", "scale": {"domain": ["M2.5.1 Messung", "Rechnung"], "range": ["red", "black"]}, "legend": {"title": null, "orient": "none", "legendX": 448, "legendY": 237}}}},
  {"data": {"name": "calc"}, "mark": {"type": "line", "strokeWidth": 2.5, "interpolate": "monotone", "clip": true},
   "encoding": {
     "x": {"field": "h", "type": "quantitative", "scale": {"domain": [-9.5, 846], "nice": false, "zero": false}, "axis": {"values": [0,24,48,72,96,120,144,168,192,216,240,264,288,312,336,360,384,408,432,456,480,504,528,552,576,600,624,648,672,696,720,744,768,792,816,840], "labelExpr": "datum.value % 168 === 0 ? datum.label : ''", "labelFont": "Liberation Sans Narrow, Arial Narrow, Liberation Sans", "labelFontSize": 24, "labelPadding": 3, "title": "Zeit / h", "titleFontSize": 33, "titlePadding": 21, "tickSize": {"condition": {"test": "datum.value % 168 === 0", "value": 14}, "value": 7}}},
     "y": {"field": "T", "type": "quantitative", "scale": {"domain": [-0.46, 47.32], "nice": false, "zero": false}, "axis": {"values": [0,2.5,5,7.5,10,12.5,15,17.5,20,22.5,25,27.5,30,32.5,35,37.5,40,42.5,45], "labelExpr": "datum.value % 5 === 0 ? datum.label : ''", "tickSize": {"condition": {"test": "datum.value % 5 === 0", "value": 15}, "value": 8}, "labelFontSize": 19, "labelPadding": 3, "title": "Temperatur / °C", "titleFontSize": 32, "titlePadding": 44}},
     "color": {"datum": "Rechnung", "type": "nominal"}}},
  {"data": {"values": [{"label": "Wandfuß"}]}, "mark": {"type": "text", "fontSize": 31, "font": "Liberation Sans", "fill": "black", "align": "center", "baseline": "middle"},
   "encoding": {
     "x": {"datum": 244, "type": "quantitative", "scale": {"domain": [-9.5, 846], "nice": false, "zero": false}, "axis": {"values": [0,24,48,72,96,120,144,168,192,216,240,264,288,312,336,360,384,408,432,456,480,504,528,552,576,600,624,648,672,696,720,744,768,792,816,840], "labelExpr": "datum.value % 168 === 0 ? datum.label : ''", "labelFont": "Liberation Sans Narrow, Arial Narrow, Liberation Sans", "labelFontSize": 24, "labelPadding": 3, "title": "Zeit / h", "titleFontSize": 33, "titlePadding": 21, "tickSize": {"condition": {"test": "datum.value % 168 === 0", "value": 14}, "value": 7}}},
     "y": {"datum": 6.0, "type": "quantitative", "scale": {"domain": [-0.46, 47.32], "nice": false, "zero": false}, "axis": {"values": [0,2.5,5,7.5,10,12.5,15,17.5,20,22.5,25,27.5,30,32.5,35,37.5,40,42.5,45], "labelExpr": "datum.value % 5 === 0 ? datum.label : ''", "tickSize": {"condition": {"test": "datum.value % 5 === 0", "value": 15}, "value": 8}, "labelFontSize": 19, "labelPadding": 3, "title": "Temperatur / °C", "titleFontSize": 32, "titlePadding": 44}},
     "text": {"field": "label", "type": "nominal"}}}
 ]
}
]
}
